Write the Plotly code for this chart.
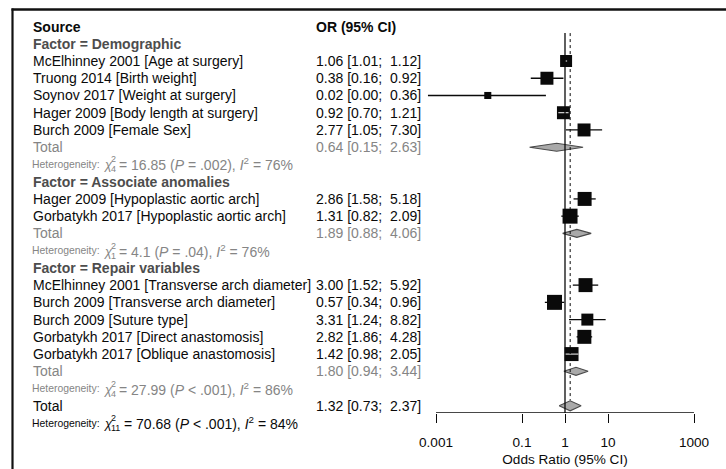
import math
import plotly.graph_objects as go

W, H = 726, 469
FONT = "Liberation Sans, Arial, sans-serif"

# ---- data -------------------------------------------------------------
group_names = ["Demographic", "Associate anomalies", "Repair variables"]

demo_studies = ["McElhinney 2001 [Age at surgery]", "Truong 2014 [Birth weight]",
                "Soynov 2017 [Weight at surgery]", "Hager 2009 [Body length at surgery]",
                "Burch 2009 [Female Sex]"]
demo_or = [1.06, 0.38, 0.016, 0.92, 2.77]
demo_lo = [1.01, 0.16, 0.00065, 0.70, 1.05]
demo_hi = [1.12, 0.92, 0.36, 1.21, 7.30]
demo_w = [6.9, 8.1, 2.4, 8.1, 8.1]

assoc_studies = ["Hager 2009 [Hypoplastic aortic arch]", "Gorbatykh 2017 [Hypoplastic aortic arch]"]
assoc_or = [2.86, 1.31]
assoc_lo = [1.58, 0.82]
assoc_hi = [5.18, 2.09]
assoc_w = [9.4, 10.8]

repair_studies = ["McElhinney 2001 [Transverse arch diameter]", "Burch 2009 [Transverse arch diameter]",
                  "Burch 2009 [Suture type]", "Gorbatykh 2017 [Direct anastomosis]",
                  "Gorbatykh 2017 [Oblique anastomosis]"]
repair_or = [3.00, 0.57, 3.31, 2.82, 1.42]
repair_lo = [1.52, 0.34, 1.24, 1.86, 0.98]
repair_hi = [5.92, 0.96, 8.82, 4.28, 2.05]
repair_w = [9.4, 10.8, 6.9, 9.4, 9.4]

group_total_or = [0.64, 1.89, 1.80]
group_total_lo = [0.15, 0.88, 0.94]
group_total_hi = [2.63, 4.06, 3.44]
group_het_chi = [16.85, 4.1, 27.99]
group_het_df = [4, 1, 4]
group_het_p = ["= .002", "= .04", "< .001"]
group_het_i2 = [76, 76, 86]

overall_or, overall_lo, overall_hi = 1.32, 0.73, 2.37
overall_het_chi, overall_het_df, overall_het_p, overall_het_i2 = 70.68, 11, "< .001", 84

axis_ticks = [0.001, 0.1, 1, 10, 1000]
axis_ticktext = ["0.001", "0.1", "1", "10", "1000"]

# ---- geometry ---------------------------------------------------------
ROW0_PX, ROW_PX = 61.0, 17.24          # pixel centre of first study row, row pitch
AXIS_PX = 413.0                         # pixel y of the x axis line
X1_PX, DEC_PX = 565.0, 43.0             # pixel x of OR = 1, pixels per decade
row_bottom = (AXIS_PX - ROW0_PX) / ROW_PX
row_top = (0 - ROW0_PX) / ROW_PX
half_dec = 145.0 / DEC_PX

BLACK = "#0a0a0a"
GREY = "#858585"
DARK = "#4d4d4d"
TXT = 14.0

fig = go.Figure()
annotations = []


def row_to_paper(row):
    return 1 - (ROW0_PX + ROW_PX * row) / H


def text(x_px, row, s, size=TXT, color=BLACK, bold=False, anchor="left", yshift=0):
    if bold:
        s = f"<b>{s}</b>"
    annotations.append(dict(x=x_px / W, xref="paper", y=row_to_paper(row), yref="paper",
                            text=s, showarrow=False, xanchor=anchor, yanchor="middle",
                            yshift=yshift,
                            font=dict(family=FONT, size=size, color=color)))


def ci_text(row, est, lo, hi, color=BLACK):
    text(314, row, f"{est:.2f} [{lo:.2f};", color=color)
    text(423, row, f"{hi:.2f}]", color=color, anchor="right")


def het_text(row, chi, df, p, i2, color):
    text(30, row, "Heterogeneity:", size=10.4, color=color)
    text(101.5, row, "<i>χ</i>", size=12.5, color=color, yshift=-1)
    text(109, row, "2", size=9, color=color, yshift=5)
    text(109, row, str(df), size=9, color=color, yshift=-5)
    x_rest = 116.5 + 5 * (len(str(df)) - 1)
    text(x_rest, row, f"= {chi:g} (<i>P</i> {p}), <i>I</i><sup>2</sup> = {i2}%",
         size=14.0, color=color)


ci_x, ci_y = [], []
inner_x, inner_y = [], []
box_x, box_y, box_s = [], [], []
diamonds = []

row = -2
text(31, row, "Source", bold=True)
text(314, row, "OR (95% CI)", bold=True)
row += 1

groups = [
    (demo_studies, demo_or, demo_lo, demo_hi, demo_w),
    (assoc_studies, assoc_or, assoc_lo, assoc_hi, assoc_w),
    (repair_studies, repair_or, repair_lo, repair_hi, repair_w),
]

for g, (names, ors, los, his, ws) in enumerate(groups):
    text(31, row, f"Factor = {group_names[g]}", bold=True, color=DARK)
    row += 1
    for name, est, lo, hi, w in zip(names, ors, los, his, ws):
        text(31, row, name)
        ci_text(row, est, lo, hi)
        size = 4.56 * math.sqrt(w)
        span_px = DEC_PX * (math.log10(hi) - math.log10(lo))
        if span_px < size:
            inner_x += [lo, hi, None]
            inner_y += [row, row, None]
        else:
            ci_x += [lo, hi, None]
            ci_y += [row, row, None]
        box_x.append(est)
        box_y.append(row)
        box_s.append(size)
        row += 1
    text(31, row, "Total", color=GREY)
    ci_text(row, group_total_or[g], group_total_lo[g], group_total_hi[g], color=GREY)
    diamonds.append((row, group_total_or[g], group_total_lo[g], group_total_hi[g], 4.0))
    row += 1
    het_text(row, group_het_chi[g], group_het_df[g], group_het_p[g], group_het_i2[g], GREY)
    row += 1

text(31, row, "Total")
ci_text(row, overall_or, overall_lo, overall_hi)
diamonds.append((row, overall_or, overall_lo, overall_hi, 5.0))
overall_row = row
row += 1
het_text(row, overall_het_chi, overall_het_df, overall_het_p, overall_het_i2, BLACK)

# confidence intervals
fig.add_trace(go.Scatter(x=ci_x, y=ci_y, mode="lines",
                         line=dict(color=BLACK, width=1.3), hoverinfo="skip"))
# study boxes
fig.add_trace(go.Scatter(x=box_x, y=box_y, mode="markers",
                         marker=dict(symbol="square", size=box_s, color=BLACK, opacity=1,
                                     line=dict(width=0)), hoverinfo="skip"))
# intervals narrower than their box are drawn inside it in white
fig.add_trace(go.Scatter(x=inner_x, y=inner_y, mode="lines",
                         line=dict(color="white", width=1.0), hoverinfo="skip"))
# pooled estimates
for r, est, lo, hi, hpx in diamonds:
    h = hpx / ROW_PX
    fig.add_trace(go.Scatter(x=[lo, est, hi, est, lo], y=[r, r - h, r, r + h, r],
                             mode="lines", fill="toself", fillcolor="#a9a9a9",
                             line=dict(color="#4a4a4a", width=1.1), hoverinfo="skip"))

shapes = [
    # line of no effect
    dict(type="line", xref="x", yref="y", x0=1, x1=1, y0=-1.62, y1=row_bottom,
         line=dict(color=BLACK, width=1.3)),
    # overall pooled estimate
    dict(type="line", xref="x", yref="y", x0=overall_or, x1=overall_or,
         y0=-1.62, y1=overall_row - 5.5 / ROW_PX,
         line=dict(color=BLACK, width=1, dash="dot")),
    # axis line
    dict(type="line", xref="x", yref="y", x0=axis_ticks[0], x1=axis_ticks[-1],
         y0=row_bottom, y1=row_bottom, line=dict(color=BLACK, width=1.3)),
    # frame
    dict(type="line", xref="paper", yref="paper", x0=11.5 / W, x1=1,
         y0=1 - 9.5 / H, y1=1 - 9.5 / H, line=dict(color="#111111", width=2.6)),
    dict(type="line", xref="paper", yref="paper", x0=12.5 / W, x1=12.5 / W,
         y0=0, y1=1 - 8.5 / H, line=dict(color="#111111", width=2.2)),
]

fig.update_layout(
    width=W, height=H,
    margin=dict(l=0, r=0, t=0, b=0),
    paper_bgcolor="white", plot_bgcolor="rgba(0,0,0,0)",
    showlegend=False,
    font=dict(family=FONT, color=BLACK),
    annotations=annotations,
    shapes=shapes,
    xaxis=dict(type="log", domain=[(X1_PX - 145) / W, (X1_PX + 145) / W],
               range=[-half_dec, half_dec], tickvals=axis_ticks, ticktext=axis_ticktext,
               ticks="outside", ticklen=9, tickwidth=1.3, tickcolor=BLACK,
               showline=False, showgrid=False, zeroline=False,
               tickfont=dict(family=FONT, size=13.6, color=BLACK),
               ticklabelstandoff=8,
               title=dict(text="Odds Ratio (95% CI)", standoff=5,
                          font=dict(family=FONT, size=13.6, color=BLACK)),
               automargin=False, fixedrange=True),
    yaxis=dict(domain=[(H - AXIS_PX) / H, 1], range=[row_bottom, row_top],
               visible=False, fixedrange=True),
)

fig.write_html("out.html")
